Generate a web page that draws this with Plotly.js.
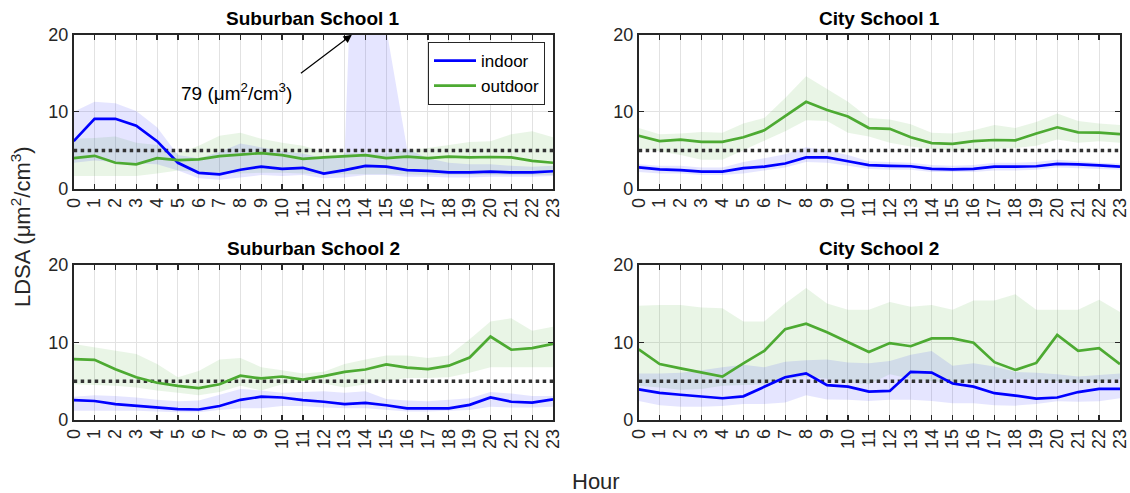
<!DOCTYPE html>
<html>
<head>
<meta charset="utf-8">
<script src="https://cdn.plot.ly/plotly-3.0.1.min.js"></script>
<style>html,body{margin:0;padding:0;background:#fff;}#chart{width:1130px;height:493px;}</style>
</head>
<body>
<div id="chart"></div>
<script>
// ---------- data ----------
const hours = [0,1,2,3,4,5,6,7,8,9,10,11,12,13,14,15,16,17,18,19,20,21,22,23];
const hourLabels = hours.map(h => String(h));
const threshold = 5;
const panelTitles = ["Suburban School 1", "City School 1", "Suburban School 2", "City School 2"];

// Suburban School 1
const sub1Indoor   = [6.2,9.1,9.1,8.2,6.2,3.4,2.1,1.9,2.5,2.9,2.6,2.75,2.0,2.45,3.0,2.9,2.45,2.35,2.15,2.15,2.25,2.15,2.15,2.3];
const sub1IndoorLo = [3.4,3.7,3.5,3.3,3.2,2.4,1.4,1.2,1.5,1.8,1.7,1.8,1.4,1.5,1.8,1.8,1.6,1.6,1.5,1.5,1.6,1.6,1.6,1.7];
const sub1IndoorHi = [10.0,11.3,11.1,10.1,8.0,4.4,4.0,4.8,5.9,5.4,4.9,4.6,4.0,4.5,79,20.8,5.2,4.0,3.4,3.2,3.2,3.0,2.9,3.0];
const sub1Outdoor   = [4.0,4.3,3.4,3.2,4.0,3.75,3.85,4.25,4.45,4.65,4.4,3.9,4.1,4.25,4.4,4.0,4.2,4.0,4.2,4.1,4.15,4.1,3.65,3.4];
const sub1OutdoorLo = [1.7,1.7,1.7,1.7,2.0,2.4,2.2,2.1,2.0,2.1,2.1,2.0,1.9,1.9,1.9,1.9,1.9,1.8,1.8,1.8,1.8,1.8,1.8,1.8];
const sub1OutdoorHi = [6.5,6.6,6.8,6.0,5.7,4.6,5.6,6.9,7.3,6.5,6.0,5.6,4.8,4.7,4.6,4.6,5.0,5.3,5.7,6.1,6.2,7.1,7.5,6.7];

// City School 1
const city1Indoor   = [2.8,2.55,2.45,2.25,2.25,2.7,2.9,3.3,4.1,4.1,3.6,3.1,3.0,2.95,2.6,2.55,2.6,2.9,2.9,2.95,3.25,3.2,3.05,2.9];
const city1IndoorLo = [2.2,2.0,2.0,1.8,1.8,2.0,2.4,2.8,3.5,3.4,3.0,2.6,2.5,2.5,2.2,2.2,2.2,2.4,2.4,2.5,2.8,2.7,2.6,2.5];
const city1IndoorHi = [3.2,3.0,3.0,2.8,2.8,3.5,4.0,4.5,5.4,5.0,4.4,3.6,3.5,3.4,3.1,3.0,3.1,3.4,3.4,3.5,3.8,3.6,3.4,3.3];
const city1Outdoor   = [6.9,6.2,6.4,6.1,6.1,6.7,7.6,9.5,11.3,10.25,9.4,7.9,7.8,6.7,5.95,5.85,6.2,6.35,6.3,7.2,8.0,7.35,7.3,7.1];
const city1OutdoorLo = [5.3,4.9,4.4,3.8,3.8,5.0,6.2,7.5,8.9,8.8,7.3,6.8,6.0,5.5,5.2,5.0,5.1,5.2,5.3,5.6,6.4,6.0,6.2,6.0];
const city1OutdoorHi = [7.9,7.1,7.2,7.4,7.3,8.5,9.2,11.8,14.6,12.9,11.3,9.2,9.0,8.4,7.3,7.2,7.6,8.3,7.9,8.7,9.8,8.8,8.5,8.3];

// Suburban School 2
const sub2Indoor   = [2.55,2.45,2.05,1.85,1.6,1.4,1.35,1.8,2.6,3.0,2.9,2.55,2.35,2.05,2.2,1.9,1.5,1.5,1.5,1.95,2.9,2.35,2.25,2.65];
const sub2IndoorLo = [1.2,1.2,1.2,1.2,1.1,1.0,1.0,1.3,1.5,1.5,1.8,1.8,1.6,1.5,1.5,1.3,1.1,1.1,1.2,1.3,1.7,1.6,1.6,1.7];
const sub2IndoorHi = [3.0,3.2,3.1,2.9,2.6,2.4,2.5,3.3,4.0,3.8,3.5,3.6,3.7,3.5,3.7,2.7,2.5,2.4,2.6,2.8,3.6,3.4,3.1,3.1];
const sub2Outdoor   = [7.85,7.75,6.55,5.5,4.8,4.4,4.1,4.6,5.7,5.35,5.6,5.2,5.65,6.2,6.5,7.15,6.75,6.55,7.0,8.05,10.75,9.05,9.25,9.8];
const sub2OutdoorLo = [4.6,4.5,4.4,4.2,3.8,3.5,3.2,3.6,4.4,3.8,4.6,4.9,4.7,4.2,4.6,5.0,5.4,5.4,5.5,6.1,6.8,6.8,6.8,6.8];
const sub2OutdoorHi = [9.8,9.35,8.9,8.5,7.2,5.5,6.3,7.8,8.0,6.8,6.4,6.0,6.2,7.2,7.8,8.3,8.3,8.0,8.3,10.4,12.7,13.1,11.5,12.0];

// City School 2
const city2Indoor   = [3.95,3.5,3.25,3.0,2.8,3.05,4.3,5.5,6.0,4.5,4.3,3.65,3.75,6.2,6.1,4.7,4.3,3.45,3.15,2.75,2.9,3.6,4.0,4.0];
const city2IndoorLo = [2.45,1.9,1.7,1.7,1.8,2.05,2.05,2.25,3.2,2.65,2.6,2.45,2.6,2.6,2.45,2.15,2.15,1.9,1.85,2.05,2.4,2.35,2.4,2.8];
const city2IndoorHi = [6.0,6.0,6.1,6.4,6.8,7.1,6.8,7.5,7.7,7.8,7.4,7.3,7.6,8.4,8.9,7.0,7.3,6.9,6.2,6.1,5.9,5.6,5.8,6.0];
const city2Outdoor   = [9.1,7.2,6.65,6.15,5.6,7.3,8.9,11.7,12.4,11.3,10.0,8.75,9.9,9.5,10.5,10.5,9.95,7.45,6.45,7.35,10.95,8.9,9.25,7.2];
const city2OutdoorLo = [4.4,4.2,3.9,4.0,4.4,4.5,4.6,5.2,5.6,5.3,4.8,4.6,5.9,5.3,5.0,4.8,5.0,5.2,5.3,5.2,5.0,4.8,5.0,5.3];
const city2OutdoorHi = [14.7,14.8,14.8,14.5,14.4,12.7,12.7,15.0,17.0,15.0,14.2,14.2,15.2,14.6,14.8,14.2,15.4,15.4,16.2,14.2,14.2,14.2,15.5,13.9];

const peakLabel = "79 (μm<sup>2</sup>/cm<sup>3</sup>)";

// ---------- styling ----------
const FONT = "Liberation Sans, Arial, Helvetica, sans-serif";
const AX = "#262626";
const BLUE = "#0000FF";
const GREEN = "#4DAA32";
const BLUE_FILL = "rgba(0,0,255,0.10)";
const GREEN_FILL = "rgba(77,170,50,0.12)";

const panels = [
  {xa: "x",  ya: "y",  inM: sub1Indoor,  inLo: sub1IndoorLo,  inHi: sub1IndoorHi,  outM: sub1Outdoor,  outLo: sub1OutdoorLo,  outHi: sub1OutdoorHi,  legend: true},
  {xa: "x2", ya: "y2", inM: city1Indoor, inLo: city1IndoorLo, inHi: city1IndoorHi, outM: city1Outdoor, outLo: city1OutdoorLo, outHi: city1OutdoorHi, legend: false},
  {xa: "x3", ya: "y3", inM: sub2Indoor,  inLo: sub2IndoorLo,  inHi: sub2IndoorHi,  outM: sub2Outdoor,  outLo: sub2OutdoorLo,  outHi: sub2OutdoorHi,  legend: false},
  {xa: "x4", ya: "y4", inM: city2Indoor, inLo: city2IndoorLo, inHi: city2IndoorHi, outM: city2Outdoor, outLo: city2OutdoorLo, outHi: city2OutdoorHi, legend: false}
];

const traces = [];
panels.forEach(p => {
  const base = {x: hours, xaxis: p.xa, yaxis: p.ya, mode: "lines", hoverinfo: "skip", showlegend: false};
  traces.push(Object.assign({}, base, {y: p.outLo, line: {width: 0, color: GREEN}}));
  traces.push(Object.assign({}, base, {y: p.outHi, line: {width: 0, color: GREEN}, fill: "tonexty", fillcolor: GREEN_FILL}));
  traces.push(Object.assign({}, base, {y: p.inLo, line: {width: 0, color: BLUE}}));
  traces.push(Object.assign({}, base, {y: p.inHi, line: {width: 0, color: BLUE}, fill: "tonexty", fillcolor: BLUE_FILL}));
  traces.push({x: [hours[0], hours[hours.length-1]], y: [threshold, threshold], xaxis: p.xa, yaxis: p.ya,
               mode: "lines", line: {color: "#333333", width: 3.5, dash: "dot"}, showlegend: false, hoverinfo: "skip"});
  traces.push(Object.assign({}, base, {y: p.inM, name: "indoor", line: {color: BLUE, width: 2.7}, showlegend: p.legend}));
  traces.push(Object.assign({}, base, {y: p.outM, name: "outdoor", line: {color: GREEN, width: 2.7}, showlegend: p.legend}));
});

const W = 1130, H = 493;
const colX = [[73.7, 553], [638.7, 1120]];
const rowY = [[34.7, 189], [264.7, 420]];
const xdom = c => [colX[c][0] / W, colX[c][1] / W];
const ydom = r => [(H - rowY[r][1]) / H, (H - rowY[r][0]) / H];

function xaxis(c) {
  return {
    domain: xdom(c), range: [hours[0], hours[hours.length-1]],
    tickmode: "array", tickvals: hours, ticktext: hourLabels, tickangle: -90,
    ticks: "inside", ticklen: 5, tickwidth: 1.2, tickcolor: AX,
    showline: true, linecolor: AX, linewidth: 1.8, mirror: "ticks",
    showgrid: true, gridcolor: "#e2e2e2", gridwidth: 1, zeroline: false,
    tickfont: {family: FONT, size: 18, color: AX}, fixedrange: true
  };
}
function yaxis(r) {
  return {
    domain: ydom(r), range: [0, 20],
    tickmode: "array", tickvals: [0, 10, 20],
    ticks: "inside", ticklen: 5, tickwidth: 1.2, tickcolor: AX,
    showline: true, linecolor: AX, linewidth: 1.8, mirror: "ticks",
    showgrid: true, gridcolor: "#e2e2e2", gridwidth: 1, zeroline: false,
    tickfont: {family: FONT, size: 18, color: AX}, fixedrange: true
  };
}

const titleAnn = panelTitles.map((t, i) => {
  const c = i % 2, r = Math.floor(i / 2);
  return {text: "<b>" + t + "</b>", xref: "paper", yref: "paper",
          x: (xdom(c)[0] + xdom(c)[1]) / 2, y: ydom(r)[1], yanchor: "bottom", xanchor: "center",
          yshift: 4, showarrow: false, font: {family: FONT, size: 19, color: "#000"}};
});

const annotations = titleAnn.concat([
  {text: peakLabel, xref: "x", yref: "y", x: 7.8, y: 12.6, showarrow: false,
   font: {family: FONT, size: 19, color: "#000"}},
  {text: " ", xref: "x", yref: "y", x: 13.35, y: 20, ax: -53, ay: 40, showarrow: true,
   arrowhead: 2, arrowsize: 1.4, arrowwidth: 1.2, arrowcolor: "#000", standoff: 0,
   font: {family: FONT, size: 2}},
  {text: "LDSA (μm<sup>2</sup>/cm<sup>3</sup>)", xref: "paper", yref: "paper",
   x: 21 / W, y: (H - 227) / H, textangle: -90, showarrow: false, xanchor: "center", yanchor: "middle",
   font: {family: FONT, size: 22, color: AX}},
  {text: "Hour", xref: "paper", yref: "paper", x: 596 / W, y: (H - 481) / H,
   showarrow: false, xanchor: "center", yanchor: "middle", font: {family: FONT, size: 22, color: AX}}
]);

const layout = {
  width: W, height: H, autosize: false,
  margin: {l: 0, r: 0, t: 0, b: 0},
  paper_bgcolor: "#fff", plot_bgcolor: "#fff",
  xaxis: Object.assign(xaxis(0), {anchor: "y"}), yaxis: Object.assign(yaxis(0), {anchor: "x"}),
  xaxis2: Object.assign(xaxis(1), {anchor: "y2"}), yaxis2: Object.assign(yaxis(0), {anchor: "x2"}),
  xaxis3: Object.assign(xaxis(0), {anchor: "y3"}), yaxis3: Object.assign(yaxis(1), {anchor: "x3"}),
  xaxis4: Object.assign(xaxis(1), {anchor: "y4"}), yaxis4: Object.assign(yaxis(1), {anchor: "x4"}),
  showlegend: true,
  legend: {x: 428 / W, y: (H - 42) / H, xanchor: "left", yanchor: "top", traceorder: "normal",
           bgcolor: "#fff", bordercolor: AX, borderwidth: 1, itemwidth: 42,
           font: {family: FONT, size: 17, color: "#000"}, tracegroupgap: 0},
  annotations: annotations
};

Plotly.newPlot("chart", traces, layout, {displayModeBar: false, staticPlot: true});
</script>
</body>
</html>
